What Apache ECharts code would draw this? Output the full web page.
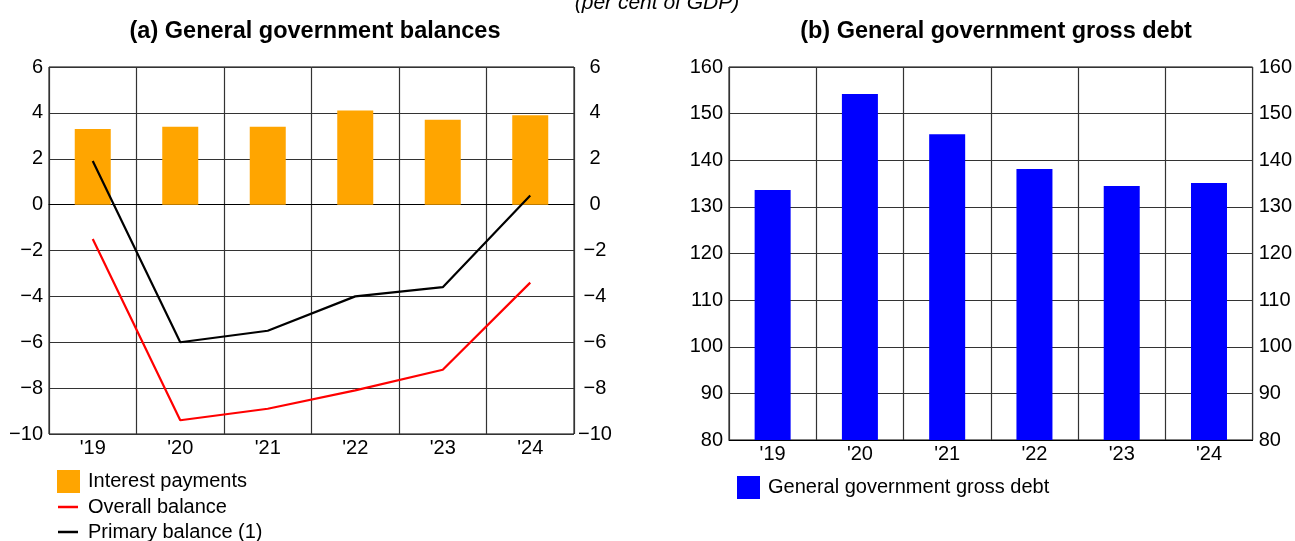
<!DOCTYPE html>
<html>
<head>
<meta charset="utf-8">
<script src="https://cdn.jsdelivr.net/npm/echarts@6/dist/echarts.min.js"></script>
<style>
  html, body { margin: 0; padding: 0; background: #fff; }
  #chart { width: 1295px; height: 541px; }
</style>
</head>
<body>
<div id="chart"></div>
<script>
// Years on both category axes
const years = ["'19", "'20", "'21", "'22", "'23", "'24"];

// Panel (a): general government balances, per cent of GDP
const interestPayments = [3.3, 3.4, 3.4, 4.1, 3.7, 3.9];
const overallBalance   = [-1.5, -9.4, -8.9, -8.1, -7.2, -3.4];
const primaryBalance   = [1.9, -6.0, -5.5, -4.0, -3.6, 0.4];

// Panel (b): general government gross debt, per cent of GDP
const grossDebt = [133.6, 154.2, 145.6, 138.1, 134.5, 135.1];

// Value-axis ranges and tick steps
const balanceRange = [-10, 6];
const balanceStep = 2;
const debtRange = [80, 160];
const debtStep = 10;

const FONT = "'Liberation Sans', Arial, Helvetica, sans-serif";
const GRID_LINE = '#333333';

const minusSign = v => String(v).replace('-', '\u2212');

const baseText = { fontFamily: FONT, fontSize: 20, color: '#000' };

function valueAxis(gridIndex, range, step, side) {
  const left = side === 'left';
  return {
    type: 'value',
    gridIndex: gridIndex,
    position: side,
    min: range[0],
    max: range[1],
    interval: step,
    axisLine: { show: false },
    axisTick: { show: false },
    splitLine: { show: left, lineStyle: { color: GRID_LINE, width: 1.2 } },
    axisLabel: Object.assign({}, baseText, {
      formatter: minusSign,
      margin: 6,
      align: left ? 'right' : 'left'
    })
  };
}

function categoryAxis(gridIndex) {
  return {
    type: 'category',
    gridIndex: gridIndex,
    data: years,
    boundaryGap: true,
    axisLine: { show: true, lineStyle: { color: '#000', width: 1 } },
    axisTick: { show: false },
    splitLine: { show: true, interval: 0, lineStyle: { color: GRID_LINE, width: 1.2 } },
    axisLabel: Object.assign({}, baseText, { margin: 4, interval: 0 })
  };
}

const leftRightAxis = valueAxis(0, balanceRange, balanceStep, 'right');
leftRightAxis.axisLabel.align = 'center';
leftRightAxis.axisLabel.margin = 21;

function legendItem(name, left, top, w, h, textPad) {
  return {
    data: [{ name: name, icon: 'rect' }],
    left: left, top: top, padding: 0,
    itemWidth: w, itemHeight: h,
    selectedMode: false,
    textStyle: Object.assign({}, baseText, { lineHeight: 20, padding: [0, 0, 0, textPad] })
  };
}

const chart = echarts.init(document.getElementById('chart'), null, { renderer: 'canvas' });

chart.setOption({
  animation: false,
  backgroundColor: '#fff',
  textStyle: { fontFamily: FONT },
  title: [
    {
      text: '(per cent of GDP)',
      left: 652, top: -12, textAlign: 'center',
      textStyle: { fontFamily: FONT, fontSize: 21, fontStyle: 'italic', fontWeight: 'normal', color: '#000' }
    },
    {
      text: '(a) General government balances',
      left: 310, top: 15, textAlign: 'center',
      textStyle: { fontFamily: FONT, fontSize: 23.5, fontWeight: 'bold', color: '#000' }
    },
    {
      text: '(b) General government gross debt',
      left: 991, top: 15, textAlign: 'center',
      textStyle: { fontFamily: FONT, fontSize: 23.5, fontWeight: 'bold', color: '#000' }
    }
  ],
  grid: [
    { left: 49, top: 67, width: 525, height: 367, show: true, borderColor: '#000', borderWidth: 1, containLabel: false },
    { left: 729, top: 67, width: 525, height: 373, show: true, borderColor: '#000', borderWidth: 1, containLabel: false }
  ],
  xAxis: [categoryAxis(0), categoryAxis(1)],
  yAxis: [
    valueAxis(0, balanceRange, balanceStep, 'left'),
    leftRightAxis,
    valueAxis(1, debtRange, debtStep, 'left'),
    valueAxis(1, debtRange, debtStep, 'right')
  ],
  legend: [
    legendItem('Interest payments', 57, 470, 23, 23, 3),
    legendItem('Overall balance', 58, 497, 20, 2.5, 5),
    legendItem('Primary balance (1)', 58, 522, 20, 2.5, 5),
    legendItem('General government gross debt', 737, 476, 23, 23, 3)
  ],
  series: [
    {
      name: 'Interest payments',
      type: 'bar',
      xAxisIndex: 0, yAxisIndex: 0,
      data: interestPayments,
      barWidth: 36,
      itemStyle: { color: '#FFA500' }
    },
    {
      name: 'Overall balance',
      type: 'line',
      xAxisIndex: 0, yAxisIndex: 0,
      data: overallBalance,
      symbol: 'none',
      color: '#FF0000',
      lineStyle: { color: '#FF0000', width: 2.2 },
      itemStyle: { color: '#FF0000' }
    },
    {
      name: 'Primary balance (1)',
      type: 'line',
      xAxisIndex: 0, yAxisIndex: 0,
      data: primaryBalance,
      symbol: 'none',
      color: '#000000',
      lineStyle: { color: '#000000', width: 2.2 },
      itemStyle: { color: '#000000' }
    },
    {
      name: 'General government gross debt',
      type: 'bar',
      xAxisIndex: 1, yAxisIndex: 2,
      data: grossDebt,
      barWidth: 36,
      itemStyle: { color: '#0000FF' }
    }
  ]
});
</script>
</body>
</html>
